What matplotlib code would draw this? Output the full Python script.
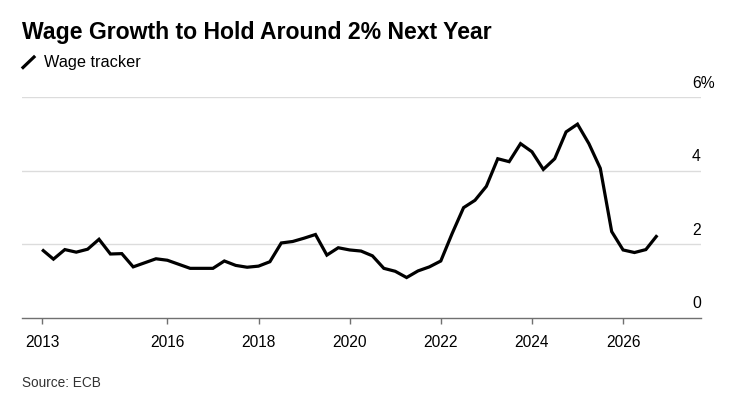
import matplotlib
matplotlib.use("Agg")
import matplotlib.pyplot as plt
import matplotlib.transforms as mtransforms
from matplotlib.lines import Line2D

plt.rcParams['font.family'] = ['Liberation Sans', 'DejaVu Sans']

# Quarterly wage tracker values, 2013 Q2 .. 2026 Q4
start_year = 2013.25
step = 0.25
wage_tracker = [
    1.86, 1.60, 1.86, 1.79, 1.87, 2.14, 1.74, 1.75, 1.39, 1.50,
    1.61, 1.57, 1.46, 1.35, 1.35, 1.35, 1.55, 1.43, 1.38, 1.41,
    1.53, 2.04, 2.08, 2.17, 2.27, 1.71, 1.91, 1.85, 1.82, 1.69,
    1.35, 1.27, 1.10, 1.28, 1.39, 1.55, 2.30, 3.00, 3.20, 3.58,
    4.33, 4.25, 4.74, 4.52, 4.04, 4.33, 5.06, 5.27, 4.74, 4.07,
    2.35, 1.85, 1.78, 1.86, 2.25,
]
x_vals = [start_year + step * i for i in range(len(wage_tracker))]

x_ticks = [2013.25, 2016, 2018, 2020, 2022, 2024, 2026]
x_tick_labels = ["2013", "2016", "2018", "2020", "2022", "2024", "2026"]
y_ticks = [0, 2, 4, 6]
y_tick_labels = ["0", "2", "4", "6%"]

title = "Wage Growth to Hold Around 2% Next Year"
series_name = "Wage tracker"
source = "Source: ECB"

W, H = 735, 399
fig = plt.figure(figsize=(W / 100, H / 100), dpi=100)
left, right = 22 / W, 701 / W
bottom, top = 1 - 318 / H, 1 - 97.3 / H
ax = fig.add_axes([left, bottom, right - left, top - bottom])

ax.plot(x_vals, wage_tracker, color="black", lw=2.3, solid_joinstyle="miter",
        solid_capstyle="butt", zorder=3)

ax.set_xlim(2012.81, 2027.71)
ax.set_ylim(0, 6)

for s in ["top", "right", "left"]:
    ax.spines[s].set_visible(False)
ax.spines["bottom"].set_color("#707070")
ax.spines["bottom"].set_linewidth(1.0)

ax.set_xticks(x_ticks)
ax.set_xticklabels(x_tick_labels, fontsize=11.2, color="black")
ax.tick_params(axis="x", length=4.5, width=1.0, color="#707070", pad=8)

ax.set_yticks([])
for yv in y_ticks[1:]:
    ax.axhline(yv, color="#dcdcdc", lw=1.0, zorder=1)

trans = mtransforms.blended_transform_factory(ax.transAxes, ax.transData)
off = mtransforms.ScaledTranslation(0, 9.8 / 100, fig.dpi_scale_trans)
for yv, lab in zip(y_ticks, y_tick_labels):
    ax.text((692 - 22) / (701 - 22), yv, lab, transform=trans + off,
            ha="left", va="baseline", fontsize=11.3, color="black")

fig.text(22 / W, 1 - 38.5 / H, title, fontsize=16.6, fontweight="bold",
         ha="left", va="baseline", color="black")

# legend
fig.add_artist(Line2D([23 / W, 34 / W], [1 - 67.5 / H, 1 - 57 / H],
                      color="black", lw=2.3, transform=fig.transFigure))
fig.text(44 / W, 1 - 66.7 / H, series_name, fontsize=11.7,
         ha="left", va="baseline", color="black")

fig.text(22 / W, 1 - 387 / H, source, fontsize=9.8,
         ha="left", va="baseline", color="#333333")

fig.savefig("out.png", dpi=100)
